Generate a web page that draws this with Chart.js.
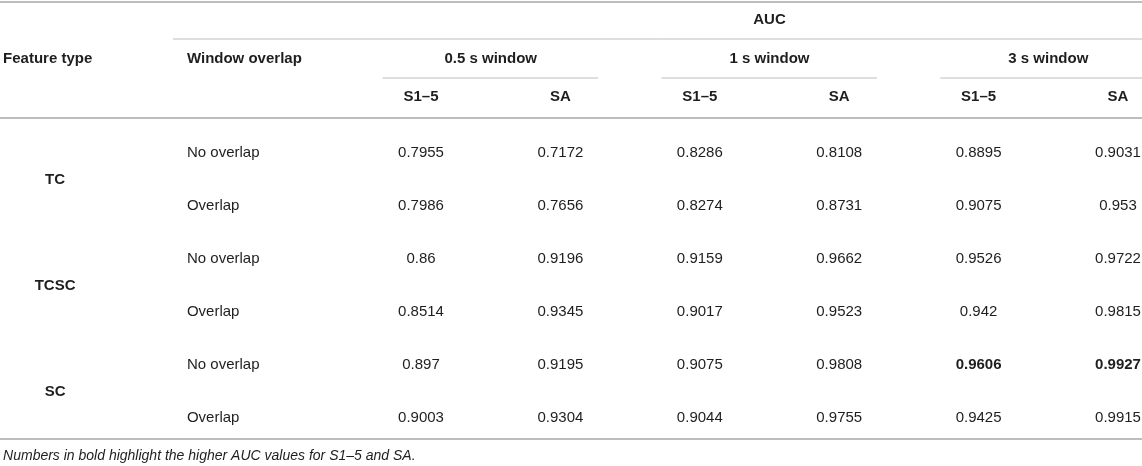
<!DOCTYPE html>
<html>
<head>
<meta charset="utf-8">
<script src="https://cdn.jsdelivr.net/npm/chart.js@4/dist/chart.umd.min.js"></script>
<style>
  html, body { margin: 0; padding: 0; background: #fff; }
  #wrap { width: 1142px; height: 466px; position: relative; }
</style>
</head>
<body>
<div id="wrap"><canvas id="aucTable"></canvas></div>
<script>
// ---- table content ----
const featureTypes = ["TC", "TCSC", "SC"];
const overlapTypes = ["No overlap", "Overlap"];
const windowLabels = ["0.5 s window", "1 s window", "3 s window"];
const subsetLabels = ["S1\u20135", "SA"];
const headerTitle = "AUC";
const footnote = "Numbers in bold highlight the higher AUC values for S1\u20135 and SA.";

// one array per value column, rows: TC no/ov, TCSC no/ov, SC no/ov
const auc05S15 = [0.7955, 0.7986, 0.86, 0.8514, 0.897, 0.9003];
const auc05SA  = [0.7172, 0.7656, 0.9196, 0.9345, 0.9195, 0.9304];
const auc1S15  = [0.8286, 0.8274, 0.9159, 0.9017, 0.9075, 0.9044];
const auc1SA   = [0.8108, 0.8731, 0.9662, 0.9523, 0.9808, 0.9755];
const auc3S15  = [0.8895, 0.9075, 0.9526, 0.942, 0.9606, 0.9425];
const auc3SA   = [0.9031, 0.953, 0.9722, 0.9815, 0.9927, 0.9915];

const valueCols = [auc05S15, auc05SA, auc1S15, auc1SA, auc3S15, auc3SA];

// ---- layout in table units (x: value column index, y: data row index) ----
const X_MIN = -3.02, X_MAX = 5.172;
const Y_MIN = -2.887, Y_MAX = 5.906;
const ROW_AUC = -2.51, ROW_GROUP = -1.774, ROW_SUB = -1.06;
const X_FEAT_HEAD = -2.998, X_FEAT = -2.625, X_OVERLAP = -1.679;

const FONT = '"Liberation Sans", Arial, Helvetica, sans-serif';
const TEXT = "#1e1e1e";
const RULE = "#bdbdbd";

const maxS15 = auc05S15.concat(auc1S15, auc3S15).reduce((a, b) => Math.max(a, b));
const maxSA = auc05SA.concat(auc1SA, auc3SA).reduce((a, b) => Math.max(a, b));

// text datasets: points carry their text, drawn by the plugin below
const textSet = (points, opts) => Object.assign({
  type: "scatter",
  data: points,
  pointRadius: 0,
  isText: true,
  weight: "normal",
  style: "normal",
  size: 15,
  align: "center",
}, opts);

const ruleSet = (x1, x2, y, width) => ({
  type: "scatter",
  data: [{ x: x1, y }, { x: x2, y }],
  showLine: true,
  pointRadius: 0,
  borderColor: RULE,
  borderWidth: width,
  clip: false,
});

const datasets = [];

// rules
datasets.push(ruleSet(X_MIN, X_MAX, -2.849, 2));
datasets.push(ruleSet(-1.779, X_MAX, -2.151, 1));
windowLabels.forEach((w, g) => {
  const end = g === windowLabels.length - 1 ? X_MAX : 2 * g + 1.27;
  datasets.push(ruleSet(2 * g - 0.275, end, -1.415, 1));
});
datasets.push(ruleSet(X_MIN, X_MAX, -0.66, 2));
datasets.push(ruleSet(X_MIN, X_MAX, 5.396, 2));

// header texts
datasets.push(textSet([{ x: 2.5, y: ROW_AUC, text: headerTitle }], { weight: "bold" }));
datasets.push(textSet([{ x: X_FEAT_HEAD, y: ROW_GROUP, text: "Feature type" },
                       { x: X_OVERLAP, y: ROW_GROUP, text: "Window overlap" }],
                      { weight: "bold", align: "left" }));
datasets.push(textSet(windowLabels.map((w, g) => ({ x: 2 * g + 0.5, y: ROW_GROUP, text: w })),
                      { weight: "bold" }));
datasets.push(textSet(valueCols.map((c, i) => ({ x: i, y: ROW_SUB, text: subsetLabels[i % 2] })),
                      { weight: "bold" }));

// row labels
datasets.push(textSet(featureTypes.map((f, i) => ({ x: X_FEAT, y: 2 * i + 0.5, text: f })),
                      { weight: "bold" }));
datasets.push(textSet(featureTypes.flatMap((f, i) =>
  overlapTypes.map((o, j) => ({ x: X_OVERLAP, y: 2 * i + j, text: o }))), { align: "left" }));

// value cells, the column maxima in bold
valueCols.forEach((col, c) => {
  const best = c % 2 === 0 ? maxS15 : maxSA;
  const cells = col.map((v, r) => ({ x: c, y: r, text: String(v), v }));
  datasets.push(textSet(cells.filter(p => p.v !== best)));
  datasets.push(textSet(cells.filter(p => p.v === best), { weight: "bold" }));
});

// footnote
datasets.push(textSet([{ x: X_FEAT_HEAD, y: 5.717, text: footnote }],
                      { style: "italic", size: 14, align: "left" }));

const cellText = {
  id: "cellText",
  afterDatasetsDraw(chart) {
    const ctx = chart.ctx;
    chart.data.datasets.forEach((ds, i) => {
      if (!ds.isText) return;
      const meta = chart.getDatasetMeta(i);
      ctx.save();
      ctx.font = `${ds.style} ${ds.weight} ${ds.size}px ${FONT}`;
      ctx.fillStyle = TEXT;
      ctx.textAlign = ds.align;
      ctx.textBaseline = "middle";
      meta.data.forEach((pt, k) => {
        ctx.fillText(ds.data[k].text, pt.x, pt.y);
      });
      ctx.restore();
    });
  },
};

new Chart(document.getElementById("aucTable"), {
  type: "scatter",
  data: { datasets },
  options: {
    responsive: true,
    maintainAspectRatio: false,
    animation: false,
    layout: { padding: 0 },
    events: [],
    plugins: {
      legend: { display: false },
      tooltip: { enabled: false },
    },
    scales: {
      x: { type: "linear", min: X_MIN, max: X_MAX, display: false },
      y: { type: "linear", min: Y_MIN, max: Y_MAX, reverse: true, display: false },
    },
  },
  plugins: [cellText],
});
</script>
</body>
</html>
